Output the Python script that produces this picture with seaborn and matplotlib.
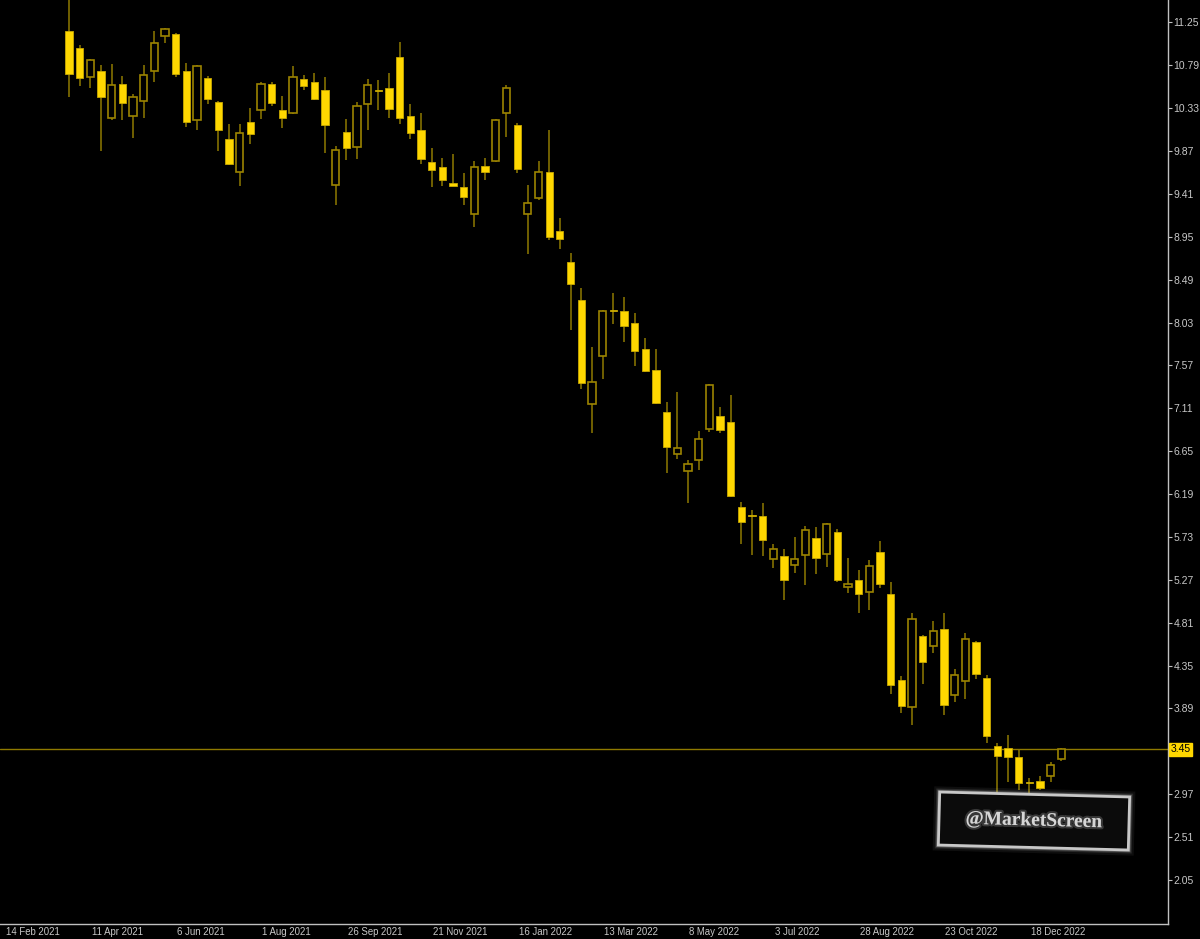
import numpy as np
import pandas as pd
import matplotlib
matplotlib.use("Agg")
import matplotlib.pyplot as plt
import matplotlib.dates as mdates
import matplotlib.transforms as mtransforms
import matplotlib.patheffects as pe
from matplotlib.patches import Rectangle
import seaborn as sns

# ---------------- data (weekly candles) ----------------
first_week = "2021-03-28"
opens = [11.16, 10.98, 10.66, 10.73, 10.22, 10.59, 10.25, 10.41, 10.73, 11.11,
         11.13, 10.73, 10.20, 10.65, 10.40, 10.00, 9.65, 10.18, 10.31, 10.59,
         10.31, 10.28, 10.64, 10.61, 10.53, 9.51, 10.08, 9.91, 10.37, 10.52,
         10.55, 10.88, 10.25, 10.10, 9.75, 9.70, 9.53, 9.48, 9.20, 9.71,
         9.76, 10.28, 10.15, 9.19, 9.37, 9.65, 9.01, 8.68, 8.27, 7.16,
         7.67, 8.17, 8.15, 8.03, 7.75, 7.52, 7.07, 6.62, 6.44, 6.56,
         6.89, 7.03, 6.96, 6.05, 5.97, 5.95, 5.49, 5.52, 5.43, 5.54,
         5.72, 5.55, 5.78, 5.19, 5.27, 5.14, 5.57, 5.12, 4.19, 3.90,
         4.67, 4.56, 4.74, 4.03, 4.18, 4.60, 4.22, 3.49, 3.47, 3.37,
         3.10, 3.11, 3.16, 3.35]
highs = [11.55, 11.01, 10.86, 10.79, 10.80, 10.68, 10.48, 10.79, 11.16, 11.19,
         11.14, 10.82, 10.79, 10.68, 10.41, 10.16, 10.16, 10.33, 10.61, 10.61,
         10.46, 10.78, 10.69, 10.71, 10.67, 9.92, 10.21, 10.40, 10.64, 10.63,
         10.71, 11.04, 10.38, 10.28, 9.90, 9.80, 9.84, 9.63, 9.76, 9.80,
         10.21, 10.58, 10.17, 9.51, 9.76, 10.10, 9.15, 8.78, 8.40, 7.77,
         8.16, 8.35, 8.30, 8.13, 7.86, 7.75, 7.18, 7.28, 6.56, 6.87,
         7.37, 7.12, 7.25, 6.10, 6.02, 6.09, 5.65, 5.60, 5.73, 5.85,
         5.84, 5.88, 5.82, 5.50, 5.38, 5.48, 5.69, 5.25, 4.24, 4.91,
         4.68, 4.83, 4.91, 4.31, 4.70, 4.61, 4.25, 3.52, 3.60, 3.44,
         3.14, 3.16, 3.32, 3.46]
lows = [10.45, 10.57, 10.55, 9.87, 10.20, 10.20, 10.01, 10.22, 10.61, 11.03,
        10.67, 10.13, 10.10, 10.38, 9.87, 9.72, 9.50, 9.95, 10.21, 10.35,
        10.12, 10.27, 10.53, 10.42, 9.85, 9.29, 9.77, 9.79, 10.10, 10.31,
        10.23, 10.16, 10.00, 9.73, 9.48, 9.50, 9.49, 9.29, 9.06, 9.56,
        9.75, 10.02, 9.63, 8.77, 9.35, 8.92, 8.82, 7.95, 7.32, 6.85,
        7.42, 8.01, 7.82, 7.56, 7.50, 7.16, 6.42, 6.57, 6.09, 6.45,
        6.86, 6.84, 6.16, 5.65, 5.54, 5.52, 5.40, 5.05, 5.34, 5.21,
        5.33, 5.41, 5.25, 5.13, 4.91, 4.95, 5.18, 4.05, 3.84, 3.71,
        4.15, 4.48, 3.82, 3.96, 3.99, 4.21, 3.52, 2.98, 3.10, 3.01,
        2.98, 3.01, 3.10, 3.33]
closes = [10.70, 10.65, 10.85, 10.45, 10.58, 10.39, 10.45, 10.69, 11.03, 11.18,
          10.70, 10.18, 10.78, 10.43, 10.10, 9.73, 10.06, 10.05, 10.59, 10.39,
          10.22, 10.66, 10.57, 10.43, 10.15, 9.88, 9.90, 10.35, 10.58, 10.51,
          10.32, 10.23, 10.06, 9.79, 9.67, 9.56, 9.50, 9.38, 9.70, 9.65,
          10.20, 10.55, 9.68, 9.31, 9.65, 8.95, 8.93, 8.44, 7.38, 7.39,
          8.15, 8.15, 7.99, 7.73, 7.51, 7.17, 6.70, 6.68, 6.51, 6.78,
          7.36, 6.88, 6.17, 5.89, 5.95, 5.70, 5.60, 5.27, 5.49, 5.80,
          5.50, 5.87, 5.27, 5.23, 5.12, 5.42, 5.23, 4.14, 3.92, 4.85,
          4.39, 4.72, 3.93, 4.25, 4.64, 4.26, 3.59, 3.38, 3.37, 3.09,
          3.09, 3.04, 3.28, 3.45]

x_tick_dates = ["2021-02-14", "2021-04-11", "2021-06-06", "2021-08-01", "2021-09-26",
                "2021-11-21", "2022-01-16", "2022-03-13", "2022-05-08", "2022-07-03",
                "2022-08-28", "2022-10-23", "2022-12-18"]
x_tick_labels = ["14 Feb 2021", "11 Apr 2021", "6 Jun 2021", "1 Aug 2021", "26 Sep 2021",
                 "21 Nov 2021", "16 Jan 2022", "13 Mar 2022", "8 May 2022", "3 Jul 2022",
                 "28 Aug 2022", "23 Oct 2022", "18 Dec 2022"]
y_ticks = [11.25, 10.79, 10.33, 9.87, 9.41, 8.95, 8.49, 8.03, 7.57, 7.11, 6.65,
           6.19, 5.73, 5.27, 4.81, 4.35, 3.89, 2.97, 2.51, 2.05]
last_price = 3.45
watermark = "@MarketScreen"

# ---------------- styling ----------------
sns.set_theme(style="dark", rc={
    "axes.facecolor": "#000000", "figure.facecolor": "#000000",
    "axes.grid": False, "xtick.color": "#c8c8c8", "ytick.color": "#c8c8c8",
})
plt.rcParams["font.family"] = ["Liberation Sans", "DejaVu Sans"]

BEAR = "#ffd700"
WICK = "#8f7a00"
OUTLINE = "#9c8400"
AXIS = "#c0c0c0"

df = pd.DataFrame({"open": opens, "high": highs, "low": lows, "close": closes})
df["date"] = pd.date_range(first_week, periods=len(df), freq="7D")
df["x"] = mdates.date2num(df["date"])
df["bottom"] = df[["open", "close"]].min(axis=1)
df["height"] = (df["close"] - df["open"]).abs().clip(lower=0.012)
df["bull"] = df["close"] > df["open"]

W, H, DPI = 1200, 939, 100
fig = plt.figure(figsize=(W / DPI, H / DPI), dpi=DPI)
ax = fig.add_axes([0, 15 / H, 1168 / W, 924 / H])

# wicks
ax.vlines(df["x"], df["low"], df["high"], color=WICK, linewidth=1.1, zorder=2)
body_w = 4.8
bear = df[~df["bull"]]
bull = df[df["bull"]]
ax.bar(bear["x"], bear["height"], bottom=bear["bottom"], width=body_w,
       color=BEAR, edgecolor="#c9a900", linewidth=0.6, zorder=3)
ax.bar(bull["x"], bull["height"], bottom=bull["bottom"], width=body_w,
       color="#000000", edgecolor=OUTLINE, linewidth=1.2, zorder=3)

# last price line
ax.axhline(last_price, color=WICK, linewidth=1.0, zorder=1)

# limits
x0 = mdates.date2num(pd.Timestamp(x_tick_dates[0]))
ax.set_xlim(x0 - 3.3, x0 + 763)
ax.set_ylim(11.491 - 924 / 93.2, 11.491)

# axes / spines
for s in ["left", "top"]:
    ax.spines[s].set_visible(False)
for s in ["right", "bottom"]:
    ax.spines[s].set_visible(True)
    ax.spines[s].set_color(AXIS)
    ax.spines[s].set_linewidth(1.0)

ax.yaxis.tick_right()
ax.set_yticks(y_ticks)
ax.set_yticklabels([f"{v:.2f}" for v in y_ticks], fontsize=7.5, color="#c8c8c8")
ax.tick_params(axis="y", direction="out", length=3, width=0.8, colors=AXIS, pad=1,
               labelcolor="#c8c8c8")

ax.set_xticks(mdates.date2num(pd.to_datetime(x_tick_dates)))
ax.set_xticklabels(x_tick_labels, fontsize=6.9, ha="left", color="#c8c8c8")
ax.tick_params(axis="x", direction="out", length=3, width=0.8, colors=AXIS, pad=0,
               labelcolor="#c8c8c8")
offset = mtransforms.ScaledTranslation(1 / 72, 1 / 72, fig.dpi_scale_trans)
for lab in ax.get_xticklabels():
    lab.set_transform(lab.get_transform() + offset)
ax.set_xlabel("")
ax.set_ylabel("")

# last price label
ax.text(1.002, last_price, f"{last_price:.2f}", transform=ax.get_yaxis_transform(),
        ha="left", va="center", fontsize=7.5, color="#000000",
        bbox=dict(boxstyle="square,pad=0.15", facecolor=BEAR, edgecolor=BEAR),
        clip_on=False, zorder=5)

# watermark box
cx, cy = 1034, H - 821
bw, bh = 190, 53
rot = mtransforms.Affine2D().rotate_deg_around(cx, cy, -1.5)
for lw, a in [(8, 0.07), (5, 0.14), (3.2, 0.3)]:
    fig.add_artist(Rectangle((cx - bw / 2, cy - bh / 2), bw, bh, transform=rot,
                             facecolor="none", edgecolor="#d0d0d0", linewidth=lw,
                             alpha=a, zorder=6))
fig.add_artist(Rectangle((cx - bw / 2, cy - bh / 2), bw, bh, transform=rot,
                         facecolor="#0b0b0b", edgecolor="#c8c8c8", linewidth=2.0,
                         zorder=7))
fig.text(cx / W, cy / H, watermark, rotation=-1.5, ha="center", va="center",
         fontsize=14, fontweight="bold", family="Liberation Serif", color="#d6d6d6",
         zorder=8,
         path_effects=[pe.withStroke(linewidth=3, foreground="#555555", alpha=0.6)])

fig.savefig("out.png", dpi=DPI, facecolor="#000000")
